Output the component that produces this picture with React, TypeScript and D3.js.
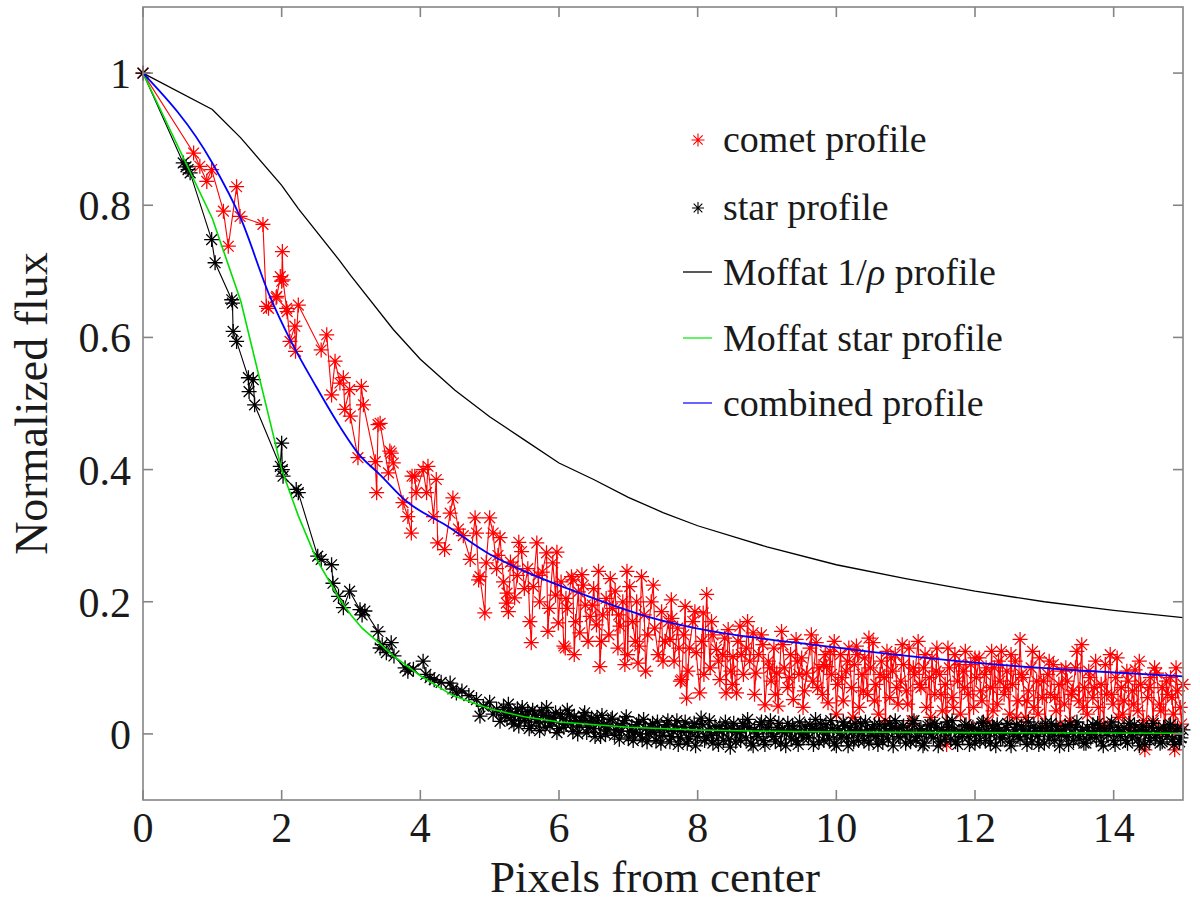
import React from "react";
import * as d3 from "d3";

// ---- Data ----
const cometX = [0,0.73,0.82,0.92,0.99,1.16,1.23,1.35,1.40,1.73,1.78,1.81,1.92,1.93,1.98,2.00,2.01,2.02,2.07,2.08,2.12,2.19,2.20,2.24,2.57,2.65,2.72,2.77,2.84,2.89,2.91,2.98,2.99,3.10,3.15,3.18,3.35,3.37,3.39,3.42,3.54,3.56,3.58,3.61,3.75,3.82,3.87,3.88,3.92,3.94,4.04,4.09,4.11,4.19,4.23,4.25,4.35,4.43,4.47,4.55,4.62,4.72,4.79,4.81,4.84,4.86,4.93,4.95,5.00,5.05,5.10,5.15,5.20,5.24,5.25,5.30,5.34,5.36,5.40,5.46,5.50,5.55,5.60,5.63,5.68,5.72,5.76,5.82,5.86,5.91,5.95,5.99,6.03,6.07,6.09,6.12,6.18,6.20,6.24,6.28,6.30,6.33,6.38,6.42,6.45,6.50,6.54,6.57,6.59,6.63,6.68,6.72,6.77,6.81,6.85,6.88,6.92,6.95,6.98,7.02,7.06,7.10,7.14,7.16,7.19,7.23,7.28,7.33,7.38,7.43,7.48,7.53,7.58,7.60,7.62,7.66,7.71,7.75,7.77,7.80,7.82,7.84,7.88,7.93,7.98,8.03,8.06,8.08,8.13,8.18,8.22,8.27,8.32,8.36,8.41,8.44,8.48,8.51,8.56,8.58,8.61,8.66,8.70,8.75,8.80,8.84,8.88,8.92,8.97,9.02,9.06,9.10,9.14,9.16,9.21,9.25,9.30,9.34,9.38,9.42,9.46,9.50,9.54,9.57,9.62,9.66,9.71,9.75,9.80,9.84,9.86,9.88,9.93,9.97,10.02,10.06,10.10,10.14,10.18,10.22,10.26,10.29,10.33,10.37,10.41,10.45,10.49,10.53,10.57,10.61,10.65,10.69,10.73,10.77,10.81,10.85,10.89,10.93,10.97,11.01,11.05,11.09,11.13,11.18,11.22,11.26,11.30,11.34,11.38,11.42,11.45,11.49,11.53,11.57,11.59,11.63,11.67,11.71,11.75,11.79,11.83,11.86,11.90,11.94,11.98,12.02,12.06,12.10,12.14,12.18,12.22,12.24,12.28,12.32,12.36,12.38,12.42,12.46,12.50,12.54,12.58,12.62,12.65,12.69,12.73,12.77,12.81,12.85,12.89,12.93,12.97,13.01,13.05,13.09,13.13,13.17,13.21,13.25,13.29,13.33,13.37,13.41,13.45,13.50,13.54,13.58,13.62,13.66,13.70,13.74,13.78,13.82,13.86,13.90,13.95,13.99,14.03,14.07,14.11,14.15,14.19,14.23,14.27,14.31,14.35,14.39,14.45,14.49,14.53,14.57,14.62,14.66,14.70,14.74,14.78,14.82,14.86,14.88,14.92,14.96,15.00];
const cometY = [1.0,0.879,0.859,0.836,0.854,0.791,0.738,0.828,0.783,0.771,0.647,0.644,0.660,0.662,0.692,0.685,0.730,0.687,0.644,0.639,0.594,0.617,0.579,0.649,0.581,0.604,0.513,0.564,0.531,0.539,0.491,0.521,0.481,0.418,0.526,0.498,0.412,0.365,0.468,0.470,0.395,0.428,0.425,0.410,0.350,0.329,0.304,0.390,0.390,0.365,0.400,0.365,0.405,0.329,0.385,0.289,0.279,0.334,0.357,0.310,0.300,0.264,0.327,0.304,0.233,0.238,0.183,0.259,0.327,0.304,0.250,0.297,0.230,0.198,0.213,0.260,0.254,0.206,0.240,0.276,0.220,0.250,0.138,0.223,0.289,0.200,0.245,0.274,0.190,0.259,0.210,0.168,0.230,0.133,0.130,0.190,0.238,0.233,0.170,0.215,0.153,0.241,0.195,0.140,0.178,0.220,0.165,0.246,0.102,0.180,0.205,0.150,0.190,0.216,0.130,0.163,0.200,0.105,0.246,0.223,0.170,0.140,0.107,0.133,0.238,0.180,0.150,0.200,0.160,0.120,0.185,0.140,0.170,0.143,0.203,0.110,0.160,0.080,0.082,0.150,0.193,0.054,0.130,0.170,0.123,0.062,0.140,0.183,0.211,0.100,0.150,0.128,0.082,0.120,0.062,0.158,0.095,0.117,0.062,0.140,0.163,0.090,0.130,0.110,0.153,0.092,0.120,0.150,0.044,0.110,0.080,0.130,0.092,0.042,0.155,0.100,0.070,0.120,0.052,0.143,0.090,0.115,0.065,0.092,0.130,0.080,0.138,0.100,0.060,0.120,0.102,0.047,0.090,0.140,0.075,0.120,0.050,0.095,0.130,0.070,0.105,0.133,0.040,0.090,0.115,0.060,0.100,0.138,0.075,0.030,0.110,0.085,0.125,0.055,0.095,0.120,0.045,0.080,0.105,0.065,0.130,0.020,0.090,0.140,0.070,0.100,0.040,0.085,0.115,0.060,0.130,0.090,0.035,0.075,-0.016,0.100,0.055,0.120,0.080,0.030,0.095,0.125,0.060,0.105,0.040,0.085,0.115,0.050,0.090,0.020,0.070,0.125,0.100,0.045,0.080,0.125,0.060,0.095,0.030,0.075,0.110,0.050,0.143,0.085,0.025,0.065,0.100,0.040,0.080,0.115,0.055,0.010,0.090,0.060,0.105,0.035,0.075,0.095,0.045,0.080,0.020,0.065,0.100,0.050,0.135,0.070,0.030,0.085,0.055,0.110,0.040,0.075,0.015,0.060,0.120,0.045,0.085,0.025,0.070,0.050,0.095,0.010,0.065,0.097,0.035,0.075,-0.024,0.055,0.085,0.020,0.092,0.045,0.070,0.005,0.060,0.085,0.030,-0.024,0.065,0.040,0.075];
// further comet pixels in the dense outer part
const cometX2 = [5.12,5.27,5.42,5.58,5.70,5.84,5.97,6.10,6.22,6.35,6.48,6.61,6.74,6.86,6.99,7.12,7.25,7.36,7.50,7.63,7.73,7.86,7.96,8.09,8.20,8.30,8.39,8.50,8.63,8.72,8.82,8.94,9.04,9.12,9.23,9.32,9.44,9.52,9.64,9.73,9.82,9.91,10.00,10.08,10.16,10.24,10.31,10.39,10.47,10.55,10.63,10.71,10.79,10.87,10.95,11.03,11.11,11.20,11.28,11.36,11.44,11.51,11.61,11.69,11.77,11.85,11.92,12.00,12.08,12.16,12.26,12.34,12.44,12.52,12.60,12.67,12.75,12.83,12.91,12.99,13.07,13.15,13.23,13.31,13.39,13.47,13.56,13.64,13.72,13.80,13.88,13.97,14.05,14.13,14.21,14.29,14.37,14.43,14.51,14.59,14.68,14.76,14.84,14.90,14.98];
const cometY2 = [0.270,0.185,0.290,0.170,0.240,0.155,0.275,0.205,0.120,0.225,0.195,0.140,0.235,0.180,0.120,0.200,0.095,0.225,0.110,0.175,0.130,0.095,0.185,0.090,0.170,0.110,0.145,0.075,0.120,0.170,0.060,0.135,0.100,0.060,0.135,0.085,0.110,0.040,0.150,0.070,0.105,0.125,0.030,0.085,0.110,0.025,0.120,0.065,0.145,0.050,0.090,0.020,0.115,0.070,0.135,0.045,0.100,0.075,0.120,0.025,0.095,0.060,0.130,0.040,0.105,0.070,0.010,0.115,0.065,0.100,0.035,0.110,0.070,0.120,0.025,0.090,0.050,0.125,0.030,0.080,0.110,0.055,0.015,0.100,0.060,0.125,0.040,0.095,0.070,0.010,0.105,0.060,0.115,0.030,0.080,0.045,0.110,0.020,0.070,0.100,0.035,0.080,0.055,0.100,0.015];

const starX = [0,0.58,0.62,0.65,0.68,0.99,1.04,1.28,1.29,1.30,1.35,1.52,1.53,1.59,1.61,1.98,2.00,2.01,2.02,2.21,2.24,2.52,2.57,2.72,2.74,2.82,2.89,2.98,3.13,3.16,3.20,3.39,3.42,3.45,3.51,3.58,3.62,3.78,3.82,3.90,4.04,4.08,4.14,4.20,4.30,4.43,4.47,4.52,4.60,4.70,4.81,4.86,4.91,5.00,5.05,5.10,5.15,5.20,5.25,5.30,5.35,5.40,5.45,5.50,5.55,5.60,5.65,5.70,5.75,5.80,5.85,5.90,5.95,6.00,6.05,6.10,6.15,6.20,6.25,6.30,6.35,6.40,6.45,6.50,6.55,6.60,6.65,6.70,6.75,6.80,6.85,6.90,6.95,7.00,7.05,7.10,7.15,7.20,7.25,7.30,7.35,7.40,7.45,7.50,7.55,7.60,7.65,7.70,7.75,7.80,7.85,7.90,7.95,8.00,8.05,8.10,8.15,8.20,8.25,8.30,8.35,8.40,8.45,8.50,8.55,8.60,8.65,8.70,8.75,8.80,8.85,8.90,8.95,9.00,9.05,9.10,9.15,9.20,9.25,9.30,9.35,9.40,9.45,9.50,9.55,9.60,9.65,9.70,9.75,9.80,9.85,9.90,9.95,10.00,10.05,10.10,10.15,10.20,10.25,10.30,10.35,10.40,10.45,10.50,10.55,10.60,10.65,10.70,10.75,10.80,10.85,10.90,10.95,11.00,11.05,11.10,11.15,11.20,11.25,11.30,11.35,11.40,11.45,11.50,11.55,11.60,11.65,11.70,11.75,11.80,11.85,11.90,11.95,12.00,12.05,12.10,12.15,12.20,12.25,12.30,12.35,12.40,12.45,12.50,12.55,12.60,12.65,12.70,12.75,12.80,12.85,12.90,12.95,13.00,13.05,13.10,13.15,13.20,13.25,13.30,13.35,13.40,13.45,13.50,13.55,13.60,13.65,13.70,13.75,13.80,13.85,13.90,13.95,14.00,14.05,14.10,14.15,14.20,14.25,14.30,14.35,14.40,14.45,14.50,14.55,14.60,14.65,14.70,14.75,14.80,14.85,14.90,14.95,15.00];
const starY = [1.0,0.864,0.858,0.854,0.849,0.748,0.713,0.657,0.652,0.609,0.594,0.539,0.518,0.536,0.498,0.405,0.440,0.400,0.390,0.370,0.365,0.269,0.264,0.256,0.228,0.208,0.191,0.216,0.188,0.180,0.186,0.155,0.130,0.135,0.123,0.138,0.118,0.100,0.095,0.098,0.110,0.090,0.085,0.082,0.078,0.077,0.068,0.062,0.065,0.058,0.052,0.027,0.042,0.048,0.030,0.037,0.019,0.040,0.025,0.033,0.015,0.038,0.028,0.020,0.034,0.012,0.030,0.022,0.035,0.010,0.026,0.018,0.032,0.008,0.024,0.015,0.030,0.004,0.020,0.012,0.027,0.002,0.018,0.008,0.025,-0.004,0.014,0.006,0.022,-0.002,0.012,0.004,0.020,-0.006,0.010,0.002,0.018,-0.008,0.008,0.000,0.016,-0.010,0.006,-0.002,0.014,-0.012,0.004,0.020,-0.006,0.010,-0.014,0.002,0.016,-0.004,0.024,-0.010,0.006,-0.002,0.012,-0.016,0.004,0.018,-0.008,0.008,-0.012,0.002,0.016,-0.006,0.010,-0.018,0.000,0.014,-0.010,0.006,0.020,-0.004,0.010,-0.014,0.002,0.016,-0.008,0.006,-0.016,0.000,0.012,-0.006,0.008,0.022,-0.012,0.004,0.014,-0.008,0.008,-0.018,0.002,0.018,-0.006,0.010,-0.012,0.004,0.016,-0.010,0.006,-0.002,0.014,-0.016,0.000,0.012,-0.008,0.008,0.020,-0.004,0.010,-0.014,0.004,0.016,-0.010,0.006,-0.018,0.002,0.014,-0.006,0.010,-0.012,0.004,0.018,-0.008,0.006,-0.016,0.002,0.012,-0.004,0.008,-0.014,0.006,0.016,-0.010,0.002,0.012,-0.018,0.004,-0.006,0.010,-0.012,0.000,0.014,-0.008,0.006,-0.016,0.002,0.012,-0.004,0.008,-0.014,0.004,0.016,-0.010,0.006,-0.002,0.012,-0.016,0.002,0.010,-0.008,0.006,-0.014,0.000,0.014,-0.006,0.008,-0.018,0.002,0.012,-0.010,0.004,-0.004,0.010,-0.014,0.002,0.014,-0.008,0.006,-0.016,0.000,0.010,-0.006,0.008,-0.012,0.002,0.012,-0.008,0.004,-0.012,0.006];
// further star pixels in the dense outer part
const starX2 = [5.22,5.27,5.32,5.37,5.42,5.47,5.52,5.57,5.62,5.67,5.72,5.77,5.82,5.87,5.92,5.97,6.02,6.07,6.12,6.17,6.22,6.27,6.32,6.37,6.42,6.47,6.52,6.57,6.62,6.67,6.72,6.77,6.82,6.87,6.92,6.97,7.02,7.07,7.12,7.17,7.22,7.27,7.32,7.37,7.42,7.47,7.52,7.57,7.62,7.67,7.72,7.77,7.82,7.87,7.92,7.97,8.02,8.07,8.12,8.17,8.22,8.27,8.32,8.37,8.42,8.47,8.52,8.57,8.62,8.67,8.72,8.77,8.82,8.87,8.92,8.97,9.02,9.07,9.12,9.17,9.22,9.27,9.32,9.37,9.42,9.47,9.52,9.57,9.62,9.67,9.72,9.77,9.82,9.87,9.92,9.97,10.02,10.07,10.12,10.17,10.22,10.27,10.32,10.37,10.42,10.47,10.52,10.57,10.62,10.67,10.72,10.77,10.82,10.87,10.92,10.97,11.02,11.07,11.12,11.17,11.22,11.27,11.32,11.37,11.42,11.47,11.52,11.57,11.62,11.67,11.72,11.77,11.82,11.87,11.92,11.97,12.02,12.07,12.12,12.17,12.22,12.27,12.32,12.37,12.42,12.47,12.52,12.57,12.62,12.67,12.72,12.77,12.82,12.87,12.92,12.97,13.02,13.07,13.12,13.17,13.22,13.27,13.32,13.37,13.42,13.47,13.52,13.57,13.62,13.67,13.72,13.77,13.82,13.87,13.92,13.97,14.02,14.07,14.12,14.17,14.22,14.27,14.32,14.37,14.42,14.47,14.52,14.57,14.62,14.67,14.72,14.77,14.82,14.87,14.92,14.97];
const starY2 = [0.028,0.045,0.020,0.030,0.012,0.040,0.025,0.008,0.036,0.018,0.005,0.028,0.040,0.012,0.024,0.002,0.030,0.010,0.036,0.016,0.026,0.000,0.020,0.032,0.010,0.024,-0.004,0.016,0.028,0.000,0.012,0.024,0.006,-0.008,0.016,0.026,0.004,-0.010,0.014,0.000,0.022,-0.012,0.010,0.002,0.018,-0.014,0.008,0.020,-0.004,0.012,-0.016,0.004,0.018,-0.008,0.010,-0.018,0.006,0.014,-0.006,0.020,-0.014,0.002,0.012,-0.010,0.008,-0.020,0.016,0.004,-0.010,0.012,0.022,-0.014,0.006,-0.004,0.018,-0.016,0.010,0.000,-0.012,0.016,0.006,-0.018,0.004,0.012,-0.010,0.018,-0.006,0.002,0.014,-0.016,0.006,0.016,-0.010,0.002,0.020,-0.014,0.008,-0.006,0.012,-0.018,0.004,0.016,-0.010,0.002,0.018,-0.014,0.008,-0.004,0.014,-0.012,0.004,0.016,-0.018,0.008,-0.006,0.012,0.002,-0.012,0.020,-0.004,0.008,-0.014,0.012,0.000,0.016,-0.018,0.006,-0.008,0.010,0.020,-0.012,0.004,-0.004,0.014,-0.016,0.010,0.000,-0.010,0.018,0.004,-0.014,0.008,0.014,-0.008,0.002,0.016,-0.018,0.006,-0.004,0.012,0.000,0.018,-0.012,0.004,-0.016,0.010,0.016,-0.008,0.002,0.012,-0.018,0.006,-0.004,0.014,-0.010,0.018,0.002,-0.014,0.010,-0.006,0.004,0.016,-0.012,0.008,-0.002,0.018,-0.016,0.010,0.002,-0.010,0.016,-0.006,0.004,-0.018,0.012,0.004,-0.010,0.016,0.000,-0.014,0.010,-0.004,0.014,-0.016,0.008,-0.006];

const moffatRhoX = [0,1,1.41,2,2.24,2.83,3,3.61,4,4.5,5,5.5,6,6.5,7,7.5,8,9,10,11,12,13,14,15];
const moffatRhoY = [1.0,0.945,0.902,0.83,0.795,0.717,0.693,0.612,0.567,0.52,0.48,0.445,0.41,0.385,0.358,0.335,0.315,0.283,0.256,0.235,0.216,0.200,0.187,0.176];

const moffatStarX = [0,1,1.41,2,2.24,2.5,2.83,3,3.16,3.4,3.61,4,4.47,5,5.5,6,7,8,9,10,12,15];
const moffatStarY = [1.0,0.78,0.655,0.40,0.33,0.265,0.205,0.18,0.16,0.138,0.118,0.088,0.058,0.038,0.026,0.018,0.010,0.006,0.004,0.003,0.002,0.001];

const combinedX = [0,1,1.41,1.83,2.12,2.5,2.84,3.1,3.42,3.8,4.38,5,5.34,6.3,7.26,8.22,9.42,10.5,12.07,13.5,15];
const combinedY = [1.0,0.864,0.78,0.662,0.597,0.525,0.465,0.425,0.392,0.352,0.315,0.272,0.254,0.213,0.178,0.155,0.138,0.124,0.107,0.096,0.087];

const xTicks = [0, 2, 4, 6, 8, 10, 12, 14];
const yTicks = [0, 0.2, 0.4, 0.6, 0.8, 1];
const yTickLabels = ["0", "0.2", "0.4", "0.6", "0.8", "1"];

const legendLabels = ["comet profile", "star profile", "Moffat 1/", "Moffat star profile", "combined profile"];

// ---- Layout ----
const W = 1200, H = 918;
const L = 143, R = 1183, T = 7, B = 800;
const FONT = "Liberation Serif, DejaVu Serif, Noto Serif, Times New Roman, serif";
const AXIS = "#858585";
const TXT = "#1a1a1a";

const x = d3.scaleLinear().domain([0, 15]).range([L, R]);
const y = d3.scaleLinear().domain([-0.1, 1.1]).range([B, T]);

type P = [number, number];
const zip = (xs: number[], ys: number[]): P[] => xs.map((v, i) => [v, ys[i]]);
const byX = (a: P, b: P) => a[0] - b[0];

const line = d3.line<P>().x(d => x(d[0])).y(d => y(d[1]));

const starPath = (r: number) => {
  const d = r * 0.72;
  return `M${-r},0H${r}M0,${-r}V${r}M${-d},${-d}L${d},${d}M${-d},${d}L${d},${-d}`;
};

const Asterisks = ({ pts, color, r, w }: { pts: P[]; color: string; r: number; w: number }) => {
  const p = starPath(r);
  return (
    <g stroke={color} strokeWidth={w} fill="none">
      {pts.map((d, i) => (
        <path key={i} d={p} transform={`translate(${x(d[0])},${y(d[1])})`} />
      ))}
    </g>
  );
};

export default function App() {
  const comet = [...zip(cometX, cometY), ...zip(cometX2, cometY2)].sort(byX);
  const star = [...zip(starX, starY), ...zip(starX2, starY2)].sort(byX);
  const rho = zip(moffatRhoX, moffatRhoY);
  const mstar = zip(moffatStarX, moffatStarY);
  const comb = zip(combinedX, combinedY);

  const legendY = [140, 208, 272, 338, 403];
  const curve = d3.line<P>().x(d => x(d[0])).y(d => y(d[1])).curve(d3.curveMonotoneX);

  return (
    <svg width={W} height={H} style={{ position: "absolute", left: 0, top: 0, background: "#fff", fontFamily: FONT }}>
      <rect x={0} y={0} width={W} height={H} fill="#fff" />
      <defs>
        <clipPath id="plotclip">
          <rect x={L - 10} y={T} width={R - L + 20} height={B - T} />
        </clipPath>
      </defs>
      <g clipPath="url(#plotclip)">
        {/* comet profile */}
        <path d={line(comet) || ""} fill="none" stroke="#ff0000" strokeWidth={1.1} />
        <Asterisks pts={comet} color="#ff0000" r={7.5} w={1.25} />
        {/* star profile */}
        <path d={line(star) || ""} fill="none" stroke="#000" strokeWidth={1.1} />
        <Asterisks pts={star} color="#000" r={7.5} w={1.3} />
        {/* fitted profiles */}
        <path d={line(rho) || ""} fill="none" stroke="#000" strokeWidth={1.3} />
        <path d={line(mstar) || ""} fill="none" stroke="#00e000" strokeWidth={1.6} />
        <path d={curve(comb) || ""} fill="none" stroke="#0000ff" strokeWidth={1.8} />
      </g>

      {/* axes box */}
      <rect x={L} y={T} width={R - L} height={B - T} fill="none" stroke={AXIS} strokeWidth={1.6} />
      <g stroke={AXIS} strokeWidth={1.6}>
        {xTicks.map(t => (
          <g key={"xt" + t}>
            <line x1={x(t)} x2={x(t)} y1={B} y2={B - 10} />
            <line x1={x(t)} x2={x(t)} y1={T} y2={T + 10} />
          </g>
        ))}
        {yTicks.map(t => (
          <g key={"yt" + t}>
            <line x1={L} x2={L + 10} y1={y(t)} y2={y(t)} />
            <line x1={R} x2={R - 10} y1={y(t)} y2={y(t)} />
          </g>
        ))}
      </g>

      {/* tick labels */}
      <g fill={TXT} fontSize={42}>
        {xTicks.map(t => (
          <text key={"xl" + t} x={x(t)} y={842} textAnchor="middle">{String(t)}</text>
        ))}
        {yTicks.map((t, i) => (
          <text key={"yl" + t} x={131} y={y(t) + 15} textAnchor="end">{yTickLabels[i]}</text>
        ))}
      </g>

      {/* axis labels */}
      <text x={(L + R) / 2 - 8} y={892} textAnchor="middle" fontSize={45} fill={TXT}>Pixels from center</text>
      <text transform={`translate(47,${(T + B) / 2}) rotate(-90)`} textAnchor="middle" fontSize={46} fill={TXT}>Normalized flux</text>

      {/* legend */}
      <g fontSize={38} fill={TXT}>
        <path d={starPath(6.5)} transform={`translate(698,${legendY[0]})`} stroke="#ff0000" strokeWidth={1.1} fill="none" />
        <text x={723} y={legendY[0] + 12}>{legendLabels[0]}</text>
        <path d={starPath(6)} transform={`translate(698,${legendY[1]})`} stroke="#000" strokeWidth={1.1} fill="none" />
        <text x={723} y={legendY[1] + 12}>{legendLabels[1]}</text>
        <line x1={683} x2={712} y1={legendY[2]} y2={legendY[2]} stroke="#000" strokeWidth={1.3} />
        <text x={723} y={legendY[2] + 13}>{legendLabels[2]}<tspan fontStyle="italic">ρ</tspan> profile</text>
        <line x1={683} x2={712} y1={legendY[3]} y2={legendY[3]} stroke="#33ee33" strokeWidth={1.5} />
        <text x={723} y={legendY[3] + 13}>{legendLabels[3]}</text>
        <line x1={683} x2={712} y1={legendY[4]} y2={legendY[4]} stroke="#3333ff" strokeWidth={1.5} />
        <text x={723} y={legendY[4] + 13}>{legendLabels[4]}</text>
      </g>
    </svg>
  );
}
